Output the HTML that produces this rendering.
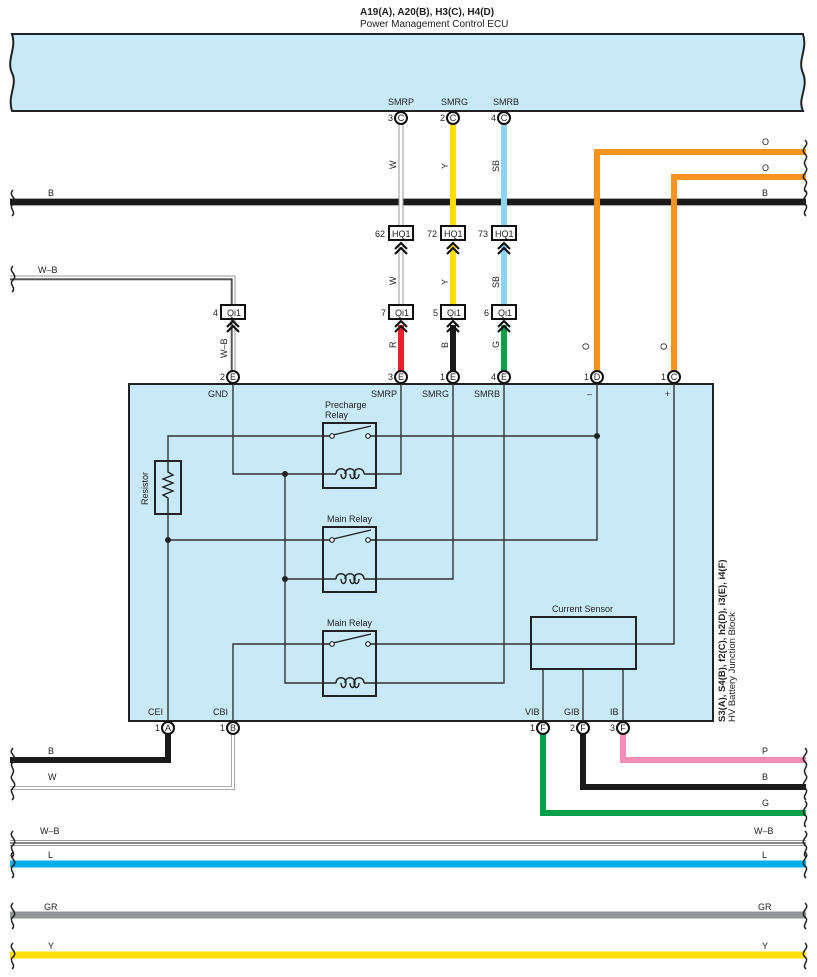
<!DOCTYPE html>
<html><head><meta charset="utf-8"><style>
body{margin:0;background:#fff}
svg{display:block;font-family:"Liberation Sans",sans-serif}
text{font-size:9px;fill:#222}
</style></head><body>
<svg width="817" height="977" viewBox="0 0 817 977" xmlns="http://www.w3.org/2000/svg">
<defs>
<g id="chev"><path d="M-6,6 L0,0 L6,6 M-6,11 L0,5 L6,11" fill="none" stroke="#111" stroke-width="2.2"/></g>
<g id="coil" fill="none" stroke="#222" stroke-width="1.4"><path d="M-27,0 L-14,0 M14,0 L27,0"/><path d="M-14,0 C-14,-7 -4,-7 -4,0 C-4,6 -9,6 -9,0"/><path d="M-5,0 C-5,-7 5,-7 5,0 C5,6 0,6 0,0"/><path d="M4,0 C4,-7 14,-7 14,0"/><path d="M9,0 C9,6 4,6 4,0"/></g>
</defs>
<!-- titles -->
<text x="360" y="15" style="font-weight:bold;font-size:10px">A19(A), A20(B), H3(C), H4(D)</text>
<text x="360" y="27" style="font-size:10px">Power Management Control ECU</text>
<!-- ECU -->
<path d="M12,34 L803,34 C808,50 797,60 803,73 C809,88 797,98 803,111 L12,111 C7,95 18,85 12,73 C6,60 17,48 12,34 Z" fill="#c8eaf8" stroke="#222" stroke-width="2"/>
<text x="388" y="105">SMRP</text><text x="441" y="105">SMRG</text><text x="493" y="105">SMRB</text>

<!-- B horizontal -->
<line x1="10" y1="202" x2="806" y2="202" stroke="#aaa" stroke-width="8"/>
<line x1="10" y1="202" x2="806" y2="202" stroke="#1a1a1a" stroke-width="6"/>
<text x="48" y="196">B</text><text x="762" y="196">B</text>

<!-- orange -->
<path d="M806,152 L597,152 L597,377" fill="none" stroke="#f7931e" stroke-width="6"/>
<path d="M806,177 L674,177 L674,377" fill="none" stroke="#f7931e" stroke-width="6"/>
<text x="762" y="145">O</text><text x="762" y="171">O</text>
<text transform="translate(589,350) rotate(-90)">O</text>
<text transform="translate(667,350) rotate(-90)">O</text>

<!-- vertical wires ECU -> HQ1 -->
<line x1="401" y1="124" x2="401" y2="228" stroke="#999" stroke-width="5"/>
<line x1="401" y1="124" x2="401" y2="228" stroke="#fff" stroke-width="3"/>
<line x1="453" y1="124" x2="453" y2="228" stroke="#ffdd00" stroke-width="6"/>
<line x1="504" y1="124" x2="504" y2="228" stroke="#8fd3f5" stroke-width="6"/>
<!-- HQ1 -> Qi1 -->
<line x1="401" y1="244" x2="401" y2="305" stroke="#999" stroke-width="5"/>
<line x1="401" y1="244" x2="401" y2="305" stroke="#fff" stroke-width="3"/>
<line x1="453" y1="244" x2="453" y2="305" stroke="#ffdd00" stroke-width="6"/>
<line x1="504" y1="244" x2="504" y2="305" stroke="#8fd3f5" stroke-width="6"/>
<!-- Qi1 -> E -->
<line x1="401" y1="325" x2="401" y2="372" stroke="#e8202a" stroke-width="6"/>
<line x1="453" y1="325" x2="453" y2="372" stroke="#1a1a1a" stroke-width="6"/>
<line x1="504" y1="325" x2="504" y2="372" stroke="#00a04a" stroke-width="6"/>
<text transform="translate(396,169) rotate(-90)">W</text>
<text transform="translate(448,169) rotate(-90)">Y</text>
<text transform="translate(499,172) rotate(-90)">SB</text>
<text transform="translate(396,285) rotate(-90)">W</text>
<text transform="translate(448,285) rotate(-90)">Y</text>
<text transform="translate(499,288) rotate(-90)">SB</text>
<text transform="translate(396,348) rotate(-90)">R</text>
<text transform="translate(448,348) rotate(-90)">B</text>
<text transform="translate(499,348) rotate(-90)">G</text>

<!-- W-B left -->
<path d="M10,278 L233,278 L233,372" fill="none" stroke="#999" stroke-width="5"/>
<path d="M10,278 L233,278 L233,372" fill="none" stroke="#fff" stroke-width="3"/>
<path d="M10,279 L232,279 L232,372" fill="none" stroke="#111" stroke-width="1"/>
<text x="38" y="273">W–B</text>
<text transform="translate(227,358) rotate(-90)">W–B</text>

<!-- HQ1 boxes -->
<g stroke="#111" stroke-width="2" fill="#fff">
<rect x="389" y="226" width="24" height="14"/><rect x="441" y="226" width="24" height="14"/><rect x="492" y="226" width="24" height="14"/>
<rect x="389" y="305" width="24" height="14"/><rect x="441" y="305" width="24" height="14"/><rect x="492" y="305" width="24" height="14"/>
<rect x="221" y="305" width="24" height="14"/>
</g>
<text x="392" y="237">HQ1</text><text x="444" y="237">HQ1</text><text x="495" y="237">HQ1</text>
<text x="395" y="316">Qi1</text><text x="447" y="316">Qi1</text><text x="498" y="316">Qi1</text><text x="227" y="316">Qi1</text>
<text x="375" y="237">62</text><text x="427" y="237">72</text><text x="478" y="237">73</text>
<text x="381" y="316">7</text><text x="433" y="316">5</text><text x="484" y="316">6</text><text x="213" y="316">4</text>
<use href="#chev" x="401" y="243"/><use href="#chev" x="453" y="243"/><use href="#chev" x="504" y="243"/>
<use href="#chev" x="401" y="321"/><use href="#chev" x="453" y="321"/><use href="#chev" x="504" y="321"/><use href="#chev" x="233" y="321"/>

<!-- bottom wires -->
<path d="M168,733 L168,760 L10,760" fill="none" stroke="#1a1a1a" stroke-width="6"/>
<path d="M233,733 L233,788 L10,788" fill="none" stroke="#aaa" stroke-width="4"/>
<path d="M233,733 L233,788 L10,788" fill="none" stroke="#fff" stroke-width="2"/>
<path d="M623,733 L623,760 L806,760" fill="none" stroke="#f48cb6" stroke-width="6"/>
<path d="M583,733 L583,787 L806,787" fill="none" stroke="#1a1a1a" stroke-width="6"/>
<path d="M543,733 L543,813 L806,813" fill="none" stroke="#00a04a" stroke-width="6"/>
<text x="48" y="754">B</text><text x="48" y="780">W</text>
<text x="762" y="754">P</text><text x="762" y="780">B</text><text x="762" y="806">G</text>
<line x1="10" y1="843" x2="806" y2="843" stroke="#999" stroke-width="6"/>
<line x1="10" y1="843" x2="806" y2="843" stroke="#fff" stroke-width="4"/>
<line x1="10" y1="843" x2="806" y2="843" stroke="#111" stroke-width="1"/>
<text x="40" y="834">W–B</text><text x="754" y="834">W–B</text>
<line x1="10" y1="864" x2="806" y2="864" stroke="#00aeef" stroke-width="7"/>
<text x="48" y="858">L</text><text x="762" y="858">L</text>
<line x1="10" y1="915" x2="806" y2="915" stroke="#939598" stroke-width="7"/>
<text x="44" y="910">GR</text><text x="758" y="910">GR</text>
<line x1="10" y1="955" x2="806" y2="955" stroke="#ffdd00" stroke-width="7"/>
<text x="48" y="949">Y</text><text x="762" y="949">Y</text>
<!-- wavy ends -->
<g fill="none" stroke="#222" stroke-width="1.5">
<path d="M13,190 c-6,6 6,8 0,14 c-5,4 4,8 -1,12"/><path d="M805,140 c6,6 -6,8 0,14 c5,4 -4,8 1,12"/><path d="M805,166 c6,6 -6,8 0,14 c5,4 -4,8 1,12"/><path d="M805,190 c6,6 -6,8 0,14 c5,4 -4,8 1,12"/>
<path d="M13,266 c-6,6 6,8 0,14 c-5,4 4,8 -1,12"/>
<path d="M13,748 c-6,6 6,8 0,14 c-5,4 4,8 -1,12"/><path d="M13,774 c-6,6 6,8 0,14 c-5,4 4,8 -1,12"/>
<path d="M805,748 c6,6 -6,8 0,14 c5,4 -4,8 1,12"/><path d="M805,774 c6,6 -6,8 0,14 c5,4 -4,8 1,12"/><path d="M805,801 c6,6 -6,8 0,14 c5,4 -4,8 1,12"/>
<path d="M13,831 c-6,6 6,8 0,14 c-5,4 4,8 -1,12"/><path d="M805,831 c6,6 -6,8 0,14 c5,4 -4,8 1,12"/>
<path d="M13,852 c-6,6 6,8 0,14 c-5,4 4,8 -1,12"/><path d="M805,852 c6,6 -6,8 0,14 c5,4 -4,8 1,12"/>
<path d="M13,903 c-6,6 6,8 0,14 c-5,4 4,8 -1,12"/><path d="M805,903 c6,6 -6,8 0,14 c5,4 -4,8 1,12"/>
<path d="M13,943 c-6,6 6,8 0,14 c-5,4 4,8 -1,12"/><path d="M805,943 c6,6 -6,8 0,14 c5,4 -4,8 1,12"/>
</g>

<!-- Junction block -->
<rect x="129" y="384" width="584" height="337" fill="#c8eaf8" stroke="#222" stroke-width="2"/>
<text transform="translate(725,722) rotate(-90)" style="font-weight:bold;font-size:9.5px">S3(A), S4(B), f2(C), h2(D), i3(E), i4(F)</text>
<text transform="translate(735,722) rotate(-90)" style="font-size:9.5px">HV Battery Junction Block</text>
<text x="208" y="397">GND</text><text x="371" y="397">SMRP</text><text x="422" y="397">SMRG</text><text x="474" y="397">SMRB</text>
<text x="587" y="397">–</text><text x="665" y="397">+</text>
<text x="148" y="715">CEI</text><text x="213" y="715">CBI</text><text x="525" y="715">VIB</text><text x="564" y="715">GIB</text><text x="610" y="715">IB</text>

<g fill="none" stroke="#333" stroke-width="1.4">
<path d="M233,384 L233,474 L323,474"/>
<path d="M376,474 L401,474 L401,384"/>
<path d="M168,461 L168,436 L323,436"/>
<path d="M376,436 L597,436"/>
<path d="M597,384 L597,540 L376,540"/>
<path d="M168,514 L168,721"/>
<path d="M168,540 L323,540"/>
<path d="M285,474 L285,683 L323,683"/>
<path d="M285,579 L323,579"/>
<path d="M376,579 L453,579 L453,384"/>
<path d="M376,683 L504,683 L504,384"/>
<path d="M233,721 L233,644 L323,644"/>
<path d="M376,644 L674,644 L674,384"/>
<path d="M543,669 L543,721 M583,669 L583,721 M623,669 L623,721"/>
</g>
<g fill="#222"><circle cx="285" cy="474" r="3"/><circle cx="285" cy="579" r="3"/><circle cx="168" cy="540" r="3"/><circle cx="597" cy="436" r="3"/></g>
<!-- resistor -->
<rect x="155" y="461" width="26" height="53" fill="none" stroke="#222" stroke-width="2"/>
<path d="M168,461 L168,472 L173,475 L163,479 L173,483 L163,487 L173,491 L163,495 L168,498 L168,514" fill="none" stroke="#222" stroke-width="1.4"/>
<text transform="translate(148,505) rotate(-90)">Resistor</text>
<!-- relays -->
<rect x="323" y="423" width="53" height="65" fill="#c8eaf8" stroke="#222" stroke-width="2"/>
<rect x="323" y="527" width="53" height="65" fill="#c8eaf8" stroke="#222" stroke-width="2"/>
<rect x="323" y="631" width="53" height="65" fill="#c8eaf8" stroke="#222" stroke-width="2"/>
<g fill="none" stroke="#222" stroke-width="1.4">
<path d="M323,436 L330,436 M369,436 L376,436 M333,435 L371,426"/>
<path d="M323,540 L330,540 M369,540 L376,540 M333,539 L371,530"/>
<path d="M323,644 L330,644 M369,644 L376,644 M333,643 L371,634"/>
</g>
<use href="#coil" x="350" y="474"/><use href="#coil" x="350" y="579"/><use href="#coil" x="350" y="683"/>
<g fill="#fff" stroke="#222" stroke-width="1.2">
<circle cx="332" cy="436" r="2.3"/><circle cx="368" cy="436" r="2.3"/>
<circle cx="332" cy="540" r="2.3"/><circle cx="368" cy="540" r="2.3"/>
<circle cx="332" cy="644" r="2.3"/><circle cx="368" cy="644" r="2.3"/>
</g>
<text x="325" y="408">Precharge</text><text x="325" y="418">Relay</text>
<text x="327" y="522">Main Relay</text><text x="327" y="626">Main Relay</text>
<rect x="531" y="617" width="105" height="52" fill="none" stroke="#222" stroke-width="2"/>
<text x="552" y="612">Current Sensor</text>

<!-- connectors -->
<g stroke="#111" stroke-width="2" fill="#fff">
<circle cx="401" cy="118" r="6"/><circle cx="453" cy="118" r="6"/><circle cx="504" cy="118" r="6"/>
<circle cx="233" cy="377" r="6"/><circle cx="401" cy="377" r="6"/><circle cx="453" cy="377" r="6"/><circle cx="504" cy="377" r="6"/><circle cx="597" cy="377" r="6"/><circle cx="674" cy="377" r="6"/>
<circle cx="168" cy="728" r="6"/><circle cx="233" cy="728" r="6"/><circle cx="543" cy="728" r="6"/><circle cx="583" cy="728" r="6"/><circle cx="623" cy="728" r="6"/>
</g>
<g style="font-size:8px" text-anchor="middle">
<text x="401" y="121">C</text><text x="453" y="121">C</text><text x="504" y="121">C</text>
<text x="233" y="380">E</text><text x="401" y="380">E</text><text x="453" y="380">E</text><text x="504" y="380">E</text><text x="597" y="380">D</text><text x="674" y="380">C</text>
<text x="168" y="731">A</text><text x="233" y="731">B</text><text x="543" y="731">F</text><text x="583" y="731">F</text><text x="623" y="731">F</text>
</g>
<g text-anchor="end">
<text x="393" y="121">3</text><text x="445" y="121">2</text><text x="496" y="121">4</text>
<text x="225" y="380">2</text><text x="393" y="380">3</text><text x="445" y="380">1</text><text x="496" y="380">4</text><text x="589" y="380">1</text><text x="666" y="380">1</text>
<text x="160" y="731">1</text><text x="225" y="731">1</text><text x="535" y="731">1</text><text x="575" y="731">2</text><text x="615" y="731">3</text>
</g>
</svg>
</body></html>
